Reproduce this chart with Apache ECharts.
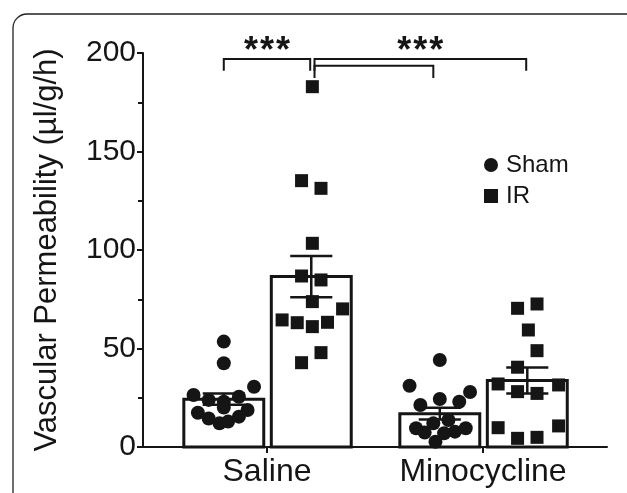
<!DOCTYPE html>
<html>
<head>
<meta charset="utf-8">
<title>Vascular permeability</title>
<script src="https://cdn.jsdelivr.net/npm/echarts@6.0.0/dist/echarts.min.js"></script>
<style>
  html, body { margin: 0; padding: 0; background: #fff; }
  #chart { width: 627px; height: 493px; }
</style>
</head>
<body>
<div id="chart"></div>
<script>
// groups on the x axis and where they sit on the (hidden) value scale
const groups = ['Saline', 'Minocycline']
const groupPos = [1, 2]

// bar heights (mean) and SEM
const shamMean = [24.3, 16.9]
const shamSem = [2.9, 3.0]
const irMean = [86.5, 33.8]
const irSem = [10.5, 6.6]

// individual animals, [x, value]
const salineSham = [
  [0.80, 53.5], [0.80, 42.5], [0.94, 30.6], [0.66, 26.4], [0.73, 23.9],
  [0.80, 23.0], [0.87, 25.5], [0.68, 17.4], [0.91, 18.8], [0.73, 14.5],
  [0.78, 12.0], [0.82, 12.9], [0.87, 15.4], [0.80, 20.0]
]
const salineIR = [
  [1.21, 182.9], [1.16, 135.2], [1.25, 131.3], [1.21, 103.4], [1.16, 86.8],
  [1.25, 84.8], [1.21, 73.8], [1.35, 70.1], [1.07, 64.5], [1.14, 63.1],
  [1.21, 61.1], [1.28, 63.3], [1.25, 47.9], [1.16, 42.8]
]
const minoSham = [
  [1.80, 44.2], [1.66, 31.1], [1.94, 27.9], [1.71, 21.3], [1.80, 24.4],
  [1.89, 23.0], [1.69, 9.5], [1.73, 7.3], [1.78, 2.7], [1.82, 7.0],
  [1.87, 7.8], [1.92, 9.5], [1.77, 12.0], [1.84, 13.7]
]
const minoIR = [
  [2.16, 70.4], [2.25, 72.6], [2.21, 59.4], [2.25, 48.9], [2.16, 40.5],
  [2.07, 32.0], [2.35, 31.5], [2.16, 28.1], [2.25, 27.2], [2.07, 9.8],
  [2.35, 10.7], [2.16, 4.4], [2.25, 4.9]
]

// significance brackets
const bracketFrom = [0.80, 1.22, 1.22]
const bracketTo = [1.20, 2.20, 1.77]
const bracketLevel = [197, 197, 193.5]
const bracketDrop = [191, 191, 187.3]
const bracketLabel = ['***', '***', '']

const yTicks = { min: 0, max: 200, interval: 50 }

const INK = '#151515'
const FONT = '"Liberation Sans", Arial, Helvetica, sans-serif'
const BAR_W = 0.37
const SHAM_SHIFT = -0.2
const IR_SHIFT = 0.205
const CAP_W = 0.195

const barData = []
groups.forEach((g, i) => {
  barData.push([groupPos[i] + SHAM_SHIFT, shamMean[i], shamSem[i]])
  barData.push([groupPos[i] + IR_SHIFT, irMean[i], irSem[i]])
})

const bracketData = bracketFrom.map((f, i) => [f, bracketTo[i], bracketLevel[i], bracketDrop[i], i])

const chart = echarts.init(document.getElementById('chart'))

const renderBar = (params, api) => {
  const x = api.value(0)
  const m = api.value(1)
  const s = api.value(2)
  const tl = api.coord([x - BAR_W / 2, m])
  const br = api.coord([x + BAR_W / 2, 0])
  const top = api.coord([x, m + s])
  const bot = api.coord([x, m - s])
  const capL = api.coord([x - CAP_W / 2, 0])[0]
  const capR = api.coord([x + CAP_W / 2, 0])[0]
  const line = { stroke: INK, lineWidth: 2.5 }
  return {
    type: 'group',
    children: [
      {
        type: 'rect',
        shape: { x: tl[0], y: tl[1], width: br[0] - tl[0], height: br[1] - tl[1] },
        style: { fill: '#fff', stroke: INK, lineWidth: 3 }
      },
      { type: 'line', shape: { x1: top[0], y1: top[1], x2: bot[0], y2: bot[1] }, style: line },
      { type: 'line', shape: { x1: capL, y1: top[1], x2: capR, y2: top[1] }, style: line },
      { type: 'line', shape: { x1: capL, y1: bot[1], x2: capR, y2: bot[1] }, style: line }
    ]
  }
}

const renderBracket = (params, api) => {
  const a = api.coord([api.value(0), api.value(2)])
  const b = api.coord([api.value(1), api.value(2)])
  const dropY = api.coord([0, api.value(3)])[1]
  const label = bracketLabel[api.value(4)]
  const style = { stroke: INK, lineWidth: 2 }
  const children = [
    {
      type: 'polyline',
      shape: { points: [[a[0], dropY], a, b, [b[0], dropY]] },
      style: { ...style, fill: 'none' }
    }
  ]
  const cx = (a[0] + b[0]) / 2
  label.split('').forEach((ch, k) => {
    children.push({
      type: 'text',
      x: cx + (k - (label.length - 1) / 2) * 16,
      y: a[1] - 7,
      style: {
        text: ch,
        fill: INK,
        font: 'bold 36px ' + FONT,
        align: 'center',
        verticalAlign: 'middle'
      }
    })
  })
  return { type: 'group', children }
}

const option = {
  animation: false,
  textStyle: { fontFamily: FONT },
  graphic: [
    {
      type: 'rect',
      silent: true,
      z: -10,
      shape: { x: 13, y: 14, width: 700, height: 600, r: 14 },
      style: { fill: 'none', stroke: '#222', lineWidth: 1.3 }
    }
  ],
  grid: { left: 143, right: 20, top: 53, bottom: 46 },
  legend: {
    orient: 'vertical',
    left: 479,
    top: 148,
    itemWidth: 14,
    itemHeight: 14,
    itemGap: 7,
    textStyle: { fontSize: 24, color: INK, fontFamily: FONT, padding: [0, 0, 0, 3] },
    data: [
      { name: 'Sham', icon: 'circle', itemStyle: { color: INK, opacity: 1 } },
      { name: 'IR', icon: 'rect', itemStyle: { color: INK, opacity: 1 } }
    ]
  },
  xAxis: {
    type: 'value',
    min: 0.426,
    max: 2.574,
    splitLine: { show: false },
    axisLine: { show: true, lineStyle: { color: INK, width: 2 } },
    axisTick: { show: true, customValues: groupPos, length: 6, lineStyle: { color: INK, width: 2 } },
    axisLabel: {
      customValues: groupPos,
      formatter: (v) => groups[groupPos.indexOf(Math.round(v))] || '',
      fontSize: 32,
      color: INK,
      margin: 9
    }
  },
  yAxis: {
    type: 'value',
    min: yTicks.min,
    max: yTicks.max,
    interval: yTicks.interval,
    name: 'Vascular Permeability (µl/g/h)',
    nameLocation: 'middle',
    nameGap: 80,
    nameTextStyle: { fontSize: 31, color: INK, fontFamily: FONT },
    splitLine: { show: false },
    axisLine: { show: true, lineStyle: { color: INK, width: 2 } },
    axisTick: { show: true, length: 6, lineStyle: { color: INK, width: 2 } },
    minorTick: { show: true, splitNumber: 2, length: 5, lineStyle: { color: INK, width: 2 } },
    axisLabel: { fontSize: 30, color: INK, margin: 7 }
  },
  series: [
    {
      type: 'custom',
      name: 'bars',
      renderItem: renderBar,
      data: barData,
      z: 1,
      silent: true
    },
    {
      type: 'scatter',
      name: 'Sham',
      symbol: 'circle',
      symbolSize: 14,
      itemStyle: { color: INK, opacity: 1 },
      data: salineSham.concat(minoSham),
      z: 3
    },
    {
      type: 'scatter',
      name: 'IR',
      symbol: 'rect',
      symbolSize: 13,
      itemStyle: { color: INK, opacity: 1 },
      data: salineIR.concat(minoIR),
      z: 3
    },
    {
      type: 'custom',
      name: 'brackets',
      renderItem: renderBracket,
      data: bracketData,
      clip: false,
      z: 4,
      silent: true
    }
  ]
}

chart.setOption(option)
</script>
</body>
</html>
